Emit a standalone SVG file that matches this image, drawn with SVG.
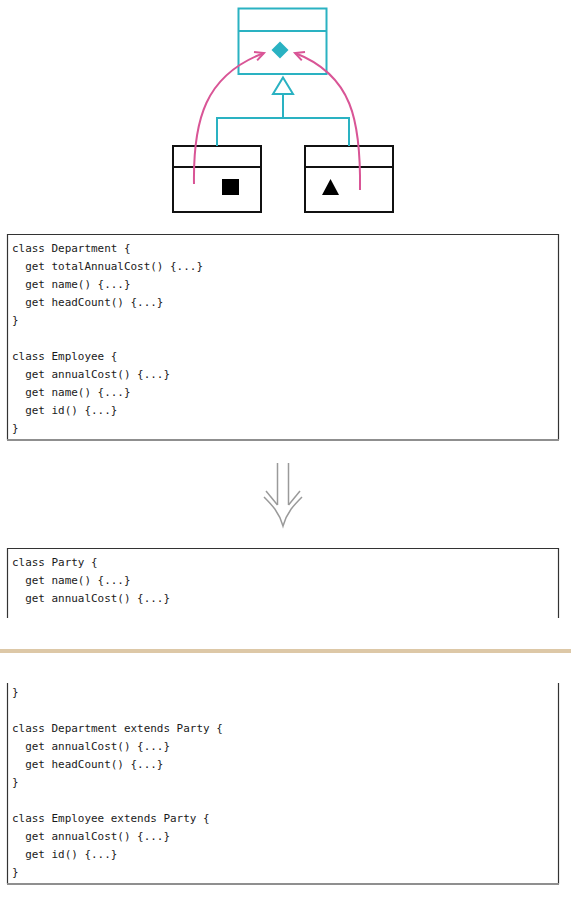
<svg xmlns="http://www.w3.org/2000/svg" width="571" height="899" viewBox="0 0 571 899">
<defs>
<style>
.code{font-family:"DejaVu Sans Mono","Liberation Mono",monospace;font-size:10.95px;fill:#1a1a1a;white-space:pre}
.uml{fill:#fff;stroke:#111;stroke-width:2}
.teal{fill:none;stroke:#2ab2c2;stroke-width:2}
.pink{fill:none;stroke:#d95596;stroke-width:2}
.side{stroke:#333;stroke-width:1.2}
.bottom{stroke:#8f8f8f;stroke-width:2}
.grey{fill:none;stroke:#9a9a9a;stroke-width:1.5}
</style>
<marker id="open" viewBox="0 0 12 12" refX="10" refY="6" markerWidth="12" markerHeight="12" markerUnits="userSpaceOnUse" orient="auto">
<path d="M1,1.5 L10,6 L1,10.5" fill="none" stroke="#d95596" stroke-width="2"/>
</marker>
</defs>

<g id="superclass">
<rect x="238.5" y="8.5" width="88" height="65.5" class="teal" fill="#fff"/>
<line x1="238.5" y1="31" x2="326.5" y2="31" class="teal"/>
<polygon points="280,41.5 288.5,50 280,58.5 271.5,50" fill="#2ab2c2"/>
</g>

<g id="department-box">
<rect x="173" y="146" width="88" height="66" class="uml"/>
<line x1="173" y1="167" x2="261" y2="167" stroke="#111" stroke-width="2"/>
<rect x="222" y="179" width="17" height="16" fill="#000"/>
</g>

<g id="employee-box">
<rect x="305" y="146" width="88" height="66" class="uml"/>
<line x1="305" y1="167" x2="393" y2="167" stroke="#111" stroke-width="2"/>
<polygon points="330.5,179 339,195 322,195" fill="#000"/>
</g>

<g id="connectors">
<polyline points="217,146 217,118 349,118 349,146" class="teal"/>
<line x1="283" y1="118" x2="283" y2="94" class="teal"/>
<polygon points="283,77.5 293,94 273,94" fill="#fff" stroke="#2ab2c2" stroke-width="2"/>
<path d="M194,184 C193,120 205,75 264,53" class="pink" marker-end="url(#open)"/>
<path d="M360,190 C361,120 352,75 295,53" class="pink" marker-end="url(#open)"/>
</g>

<g id="before-code">
<line x1="7.5" y1="234.5" x2="558.5" y2="234.5" class="side"/>
<line x1="7.5" y1="234" x2="7.5" y2="440" class="side"/>
<line x1="558.5" y1="234" x2="558.5" y2="440" class="side"/>
<line x1="7" y1="440" x2="559" y2="440" class="bottom"/>
<text class="code" x="12" y="252">class Department {</text>
<text class="code" x="12" y="270">  get totalAnnualCost() {...}</text>
<text class="code" x="12" y="288">  get name() {...}</text>
<text class="code" x="12" y="306">  get headCount() {...}</text>
<text class="code" x="12" y="324">}</text>
<text class="code" x="12" y="360">class Employee {</text>
<text class="code" x="12" y="378">  get annualCost() {...}</text>
<text class="code" x="12" y="396">  get name() {...}</text>
<text class="code" x="12" y="414">  get id() {...}</text>
<text class="code" x="12" y="432">}</text>
</g>

<g id="refactor-arrow">
<line x1="277.5" y1="463" x2="277.5" y2="505" class="grey"/>
<line x1="288.5" y1="463" x2="288.5" y2="505" class="grey"/>
<path d="M266,491 L277.5,505" class="grey"/>
<path d="M300,491 L288.5,505" class="grey"/>
<path d="M264,497 C272,505 279,512 283,526 C287,512 294,505 302,497" class="grey"/>
</g>

<g id="after-code-top">
<line x1="7.5" y1="548.5" x2="558.5" y2="548.5" class="side"/>
<line x1="7.5" y1="548" x2="7.5" y2="618" class="side"/>
<line x1="558.5" y1="548" x2="558.5" y2="618" class="side"/>
<text class="code" x="12" y="566">class Party {</text>
<text class="code" x="12" y="584">  get name() {...}</text>
<text class="code" x="12" y="602">  get annualCost() {...}</text>
</g>

<rect id="page-break" x="0" y="649" width="571" height="4" fill="#ddc8a7"/>

<g id="after-code-bottom">
<line x1="7.5" y1="683" x2="7.5" y2="884" class="side"/>
<line x1="558.5" y1="683" x2="558.5" y2="884" class="side"/>
<line x1="7" y1="884" x2="559" y2="884" class="bottom"/>
<text class="code" x="12" y="696">}</text>
<text class="code" x="12" y="732">class Department extends Party {</text>
<text class="code" x="12" y="750">  get annualCost() {...}</text>
<text class="code" x="12" y="768">  get headCount() {...}</text>
<text class="code" x="12" y="786">}</text>
<text class="code" x="12" y="822">class Employee extends Party {</text>
<text class="code" x="12" y="840">  get annualCost() {...}</text>
<text class="code" x="12" y="858">  get id() {...}</text>
<text class="code" x="12" y="876">}</text>
</g>
</svg>
